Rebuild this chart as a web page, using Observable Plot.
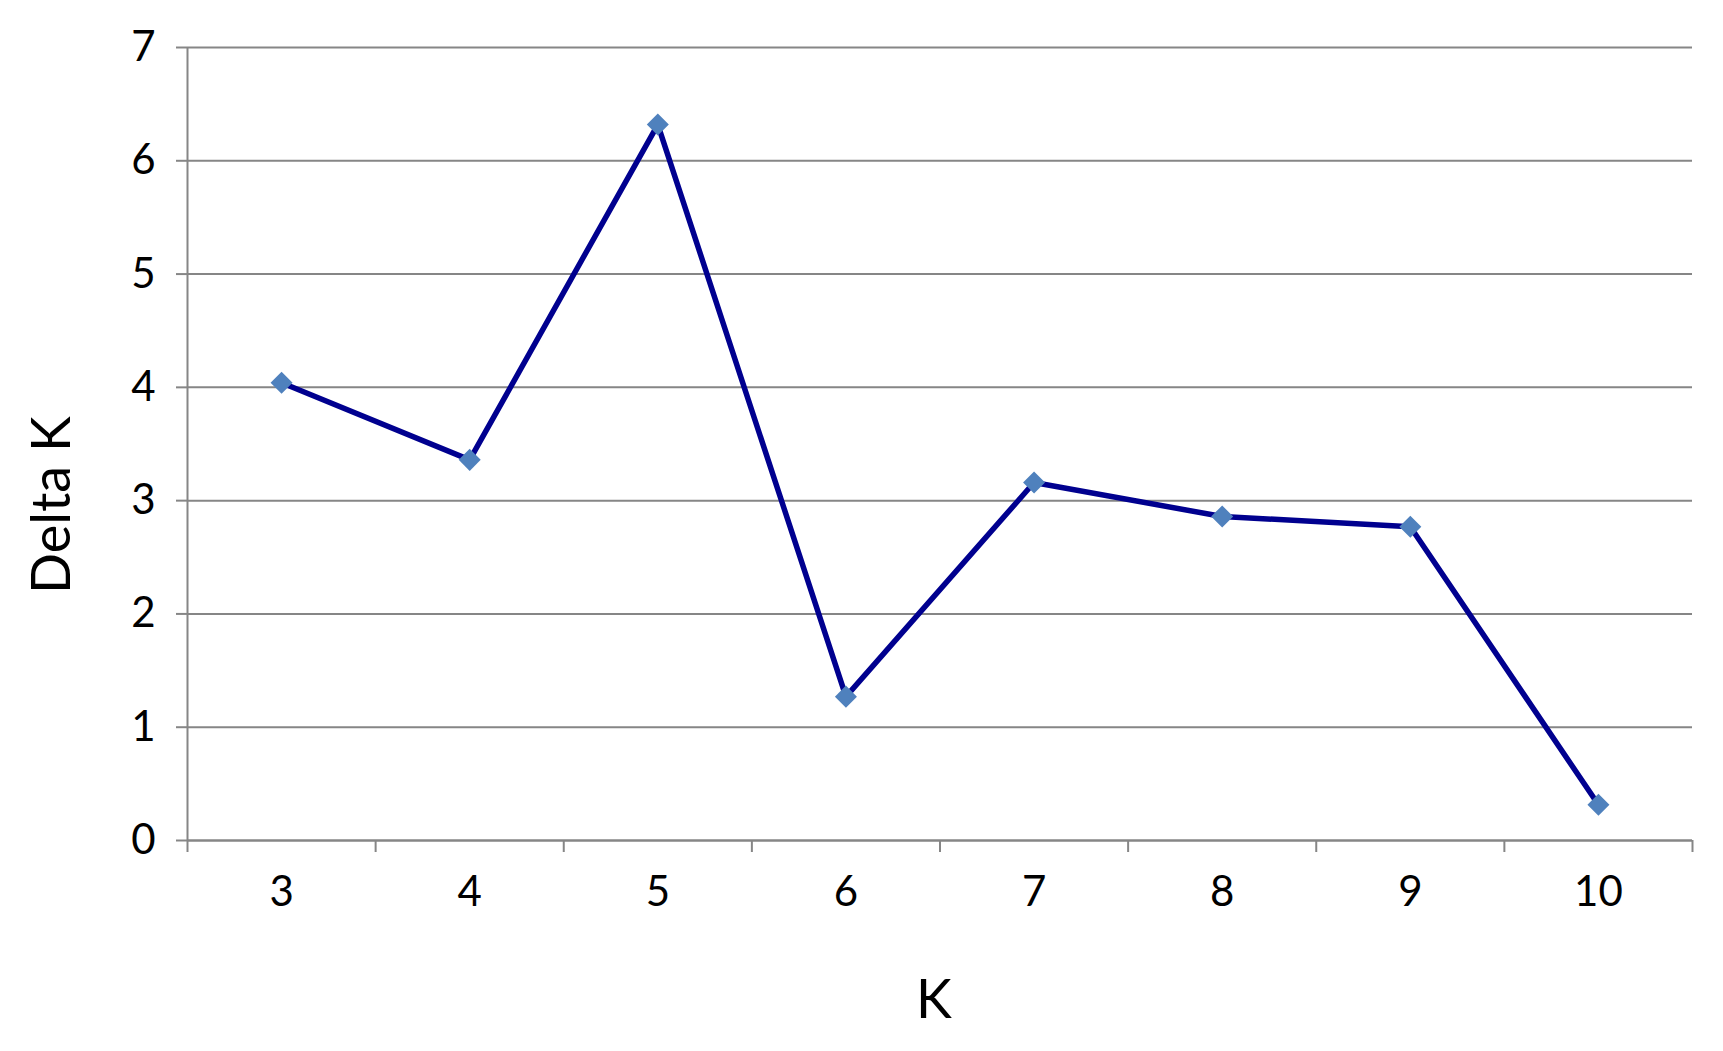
<!DOCTYPE html>
<html>
<head>
<meta charset="utf-8">
<script src="https://cdn.jsdelivr.net/npm/d3@7"></script>
<script src="https://cdn.jsdelivr.net/npm/@observablehq/plot@0.6"></script>
<style>
  html, body { margin: 0; padding: 0; background: #fff; }
  #chart svg { display: block; }
</style>
</head>
<body>
<div id="chart"></div>
<script>
const kValues = [3, 4, 5, 6, 7, 8, 9, 10];
const deltaK = [4.04, 3.36, 6.32, 1.27, 3.16, 2.86, 2.77, 0.315];
const yTicks = [0, 1, 2, 3, 4, 5, 6, 7];
const xTitle = "K";
const yTitle = "Delta K";

const data = kValues.map((k, i) => ({k, dk: deltaK[i]}));
const xDomain = [d3.min(kValues) - 0.5, d3.max(kValues) + 0.5];
const xBounds = d3.range(xDomain[0], xDomain[1] + 0.01, 1);

const gray = "#868686";
const font = "Lato, 'Open Sans', sans-serif";

const chart = Plot.plot({
  width: 1723,
  height: 1051,
  marginLeft: 187,
  marginRight: 31,
  marginTop: 47,
  marginBottom: 211,
  style: {fontFamily: font, background: "#fff", color: "#000"},
  x: {domain: xDomain},
  y: {domain: [0, 7]},
  marks: [
    Plot.gridY(yTicks, {stroke: gray, strokeOpacity: 1, strokeWidth: 2}),
    Plot.axisY(yTicks, {
      tickSize: 11, tickPadding: 21, fontSize: 42, stroke: gray, strokeWidth: 2,
      tickFormat: d => String(d), label: null
    }),
    Plot.axisX(xBounds, {
      tickSize: 12, stroke: gray, strokeWidth: 2, tickFormat: () => "", label: null
    }),
    Plot.axisX(kValues, {
      tickSize: 0, tickPadding: 36, fontSize: 42, tickFormat: d => String(d), label: null
    }),
    Plot.ruleY([0], {stroke: gray, strokeWidth: 2}),
    Plot.ruleX([xDomain[0]], {stroke: gray, strokeWidth: 2}),
    Plot.line(data, {x: "k", y: "dk", stroke: "#00008F", strokeWidth: 5.5}),
    Plot.dot(data, {x: "k", y: "dk", symbol: "square", rotate: 45, r: 8.8, fill: "#4F81BD", stroke: "none"}),
    Plot.text([yTitle], {frameAnchor: "left", dx: -135, dy: 150, rotate: -90, fontSize: 54, fill: "#000", lineAnchor: "middle"}),
    Plot.text([xTitle], {frameAnchor: "bottom", dx: -6, dy: 160, fontSize: 54, fill: "#000", lineAnchor: "middle"})
  ]
});
document.getElementById("chart").appendChild(chart);
</script>
</body>
</html>
